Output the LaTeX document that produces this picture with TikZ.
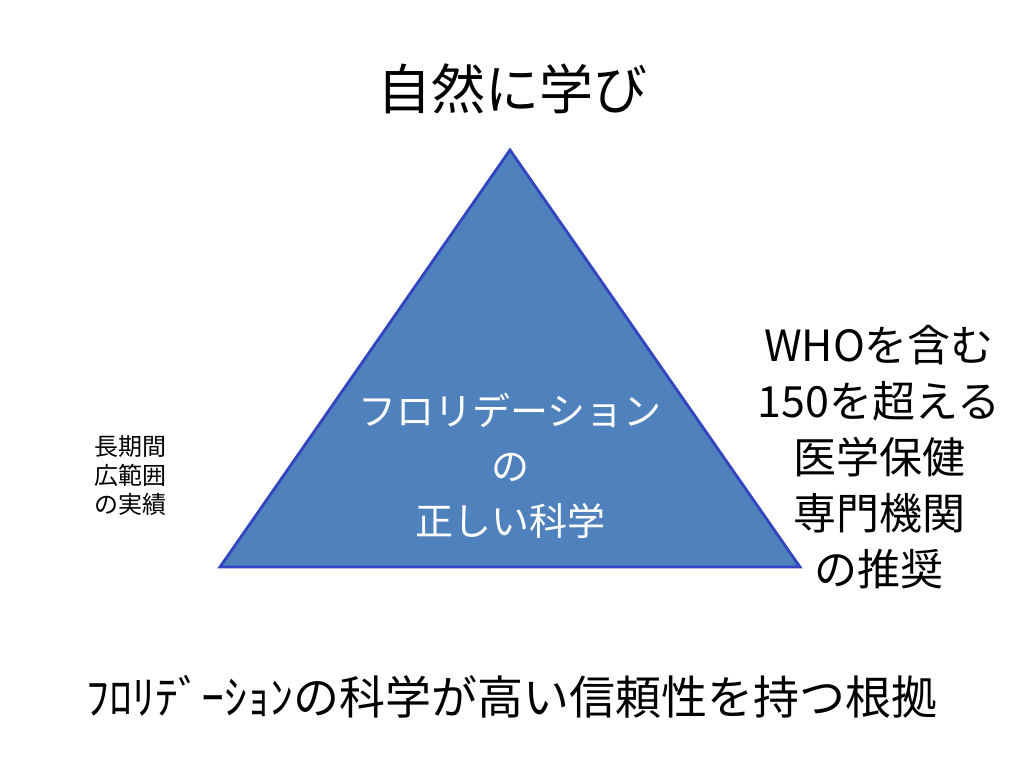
\documentclass[tikz,border=0pt]{standalone}
\usepackage{fontspec}
\setmainfont{Noto Sans CJK JP}
\definecolor{trifill}{HTML}{4F81BD}
\definecolor{triedge}{HTML}{3344C0}
\begin{document}
\begin{tikzpicture}[x=1pt,y=-1pt,
  lbl/.style={inner sep=0pt, align=center, text=black},
  big/.style={lbl, font=\fontsize{54}{60}\selectfont},
  mid/.style={lbl, font=\fontsize{43}{56}\selectfont},
  inner/.style={lbl, text=white, font=\fontsize{38}{55}\selectfont},
  small/.style={lbl, align=left, font=\fontsize{24}{29}\selectfont}]
\useasboundingbox (0,0) rectangle (1024,768);
\fill[white] (0,0) rectangle (1024,768);
\coordinate (apex) at (510,150);
\coordinate (bl) at (220,567);
\coordinate (br) at (800,567);
\draw[fill=trifill, draw=triedge, line width=2.8pt, line join=miter] (apex) -- (bl) -- (br) -- cycle;
\node[big] (title) at (512,89) {自然に学び};
\node[inner] (center) at (510,466) {フロリデーション\\の\\正しい科学};
\node[small, anchor=west] (left) at (94,476) {長期間\\広範囲\\の実績};
\node[mid] (right) at (879,457) {WHOを含む\\150を超える\\医学保健\\専門機関\\の推奨};
\node[lbl, font=\fontsize{46}{56}\selectfont] (bottom) at (512,697) {ﾌﾛﾘﾃﾞｰｼｮﾝの科学が高い信頼性を持つ根拠};
\end{tikzpicture}
\end{document}
